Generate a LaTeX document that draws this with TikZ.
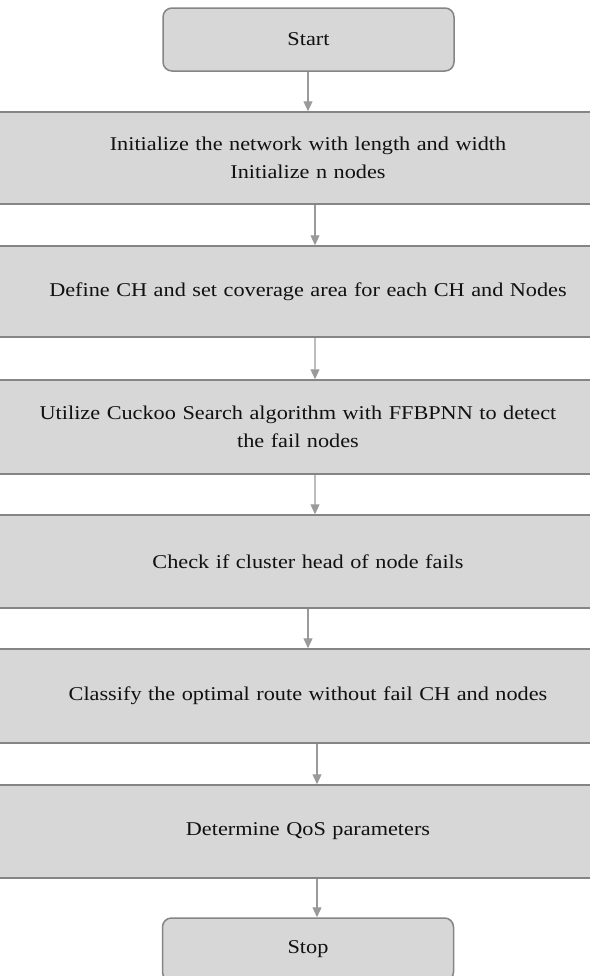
\documentclass[tikz,border=0pt]{standalone}
\usepackage{fontspec}
\setmainfont{Liberation Serif}[FakeStretch=1.14]
\usetikzlibrary{arrows.meta}
\definecolor{boxfill}{HTML}{D7D7D7}
\definecolor{boxline}{HTML}{858585}
\definecolor{arrline}{HTML}{9A9A9A}
\definecolor{txt}{HTML}{111111}
\tikzset{
  base/.style={fill=boxfill, draw=boxline, line width=1.5bp, inner sep=0pt,
    text=txt, align=center, font=\fontsize{19.6}{28}\selectfont},
  terminal/.style={base, rounded corners=9bp, minimum width=291bp, minimum height=63bp},
  stepbox/.style={base, minimum width=700bp, text width=600bp},
  arr/.style={draw=arrline, line width=1.2bp, -{Triangle[width=9bp,length=10bp]}}
}
\begin{document}
\begin{tikzpicture}[x=1bp,y=-1bp]
  \clip (0,0) rectangle (590,976);
  \fill[white] (0,0) rectangle (590,976);

  \node[terminal] (start) at (308.5,39.5) {Start};
  \node[stepbox, minimum height=92bp] (b1) at (308,158)
    {Initialize the network with length and width\\Initialize n nodes};
  \node[stepbox, minimum height=91bp] (b2) at (308,291.5)
    {Define CH and set coverage area for each CH and Nodes};
  \node[stepbox, minimum height=94bp] (b3) at (298,427)
    {Utilize Cuckoo Search algorithm with FFBPNN to detect\\the fail nodes};
  \node[stepbox, minimum height=93bp] (b4) at (308,561.5)
    {Check if cluster head of node fails};
  \node[stepbox, minimum height=94bp] (b5) at (308,696)
    {Classify the optimal route without fail CH and nodes};
  \node[stepbox, minimum height=93bp] (b6) at (308,831.5)
    {Determine QoS parameters};
  \node[terminal] (stop) at (308,949.5) {Stop};

  \draw[arr] ([xshift=-0.5bp]start.south) -- (b1.north);
  \draw[arr] ([xshift=7bp]b1.south) -- ([xshift=7bp]b2.north);
  \draw[arr] ([xshift=7bp]b2.south) -- ([xshift=17bp]b3.north);
  \draw[arr] ([xshift=17bp]b3.south) -- ([xshift=7bp]b4.north);
  \draw[arr] (b4.south) -- (b5.north);
  \draw[arr] ([xshift=9bp]b5.south) -- ([xshift=9bp]b6.north);
  \draw[arr] ([xshift=9bp]b6.south) -- ([xshift=9bp]stop.north);
\end{tikzpicture}
\end{document}
